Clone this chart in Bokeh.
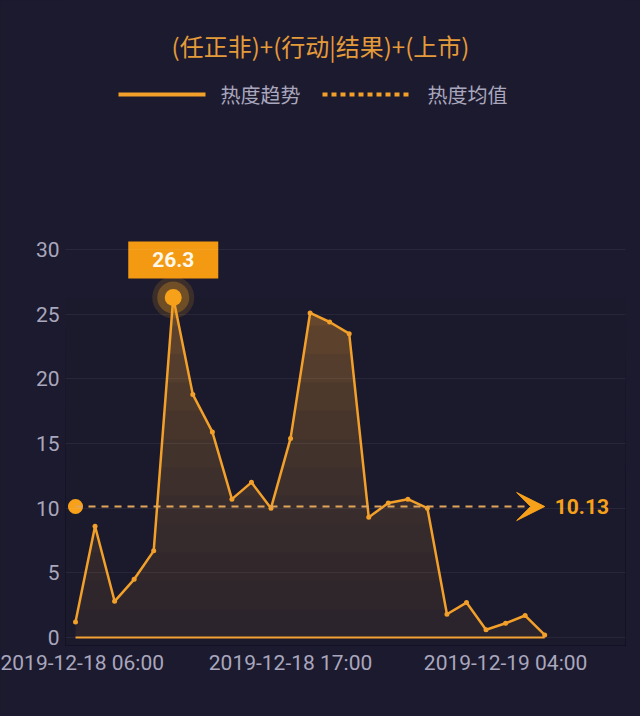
import pandas as pd
from bokeh.plotting import figure
from bokeh.models import (FixedTicker, DatetimeTickFormatter, Range1d, Arrow, VeeHead)
from bokeh.core.properties import value
from bokeh.embed import file_html
from bokeh.resources import INLINE

# ---------------- data ----------------
title_text = "(任正非)+(行动|结果)+(上市)"
legend_labels = ["热度趋势", "热度均值"]
times = [
    "2019-12-18 06:00", "2019-12-18 07:00", "2019-12-18 08:00", "2019-12-18 09:00",
    "2019-12-18 10:00", "2019-12-18 11:00", "2019-12-18 12:00", "2019-12-18 13:00",
    "2019-12-18 14:00", "2019-12-18 15:00", "2019-12-18 16:00", "2019-12-18 17:00",
    "2019-12-18 18:00", "2019-12-18 19:00", "2019-12-18 20:00", "2019-12-18 21:00",
    "2019-12-18 22:00", "2019-12-18 23:00", "2019-12-19 00:00", "2019-12-19 01:00",
    "2019-12-19 02:00", "2019-12-19 03:00", "2019-12-19 04:00", "2019-12-19 05:00",
    "2019-12-19 06:00",
]
heat = [1.2, 8.6, 2.8, 4.5, 6.7, 26.3, 18.8, 15.9, 10.7, 12.0, 10.0, 15.4, 25.1,
        24.4, 23.5, 9.3, 10.4, 10.7, 10.0, 1.8, 2.7, 0.6, 1.1, 1.7, 0.2]
mean_value = 10.13
y_ticks = [0, 5, 10, 15, 20, 25, 30]
x_tick_labels = ["2019-12-18 06:00", "2019-12-18 17:00", "2019-12-19 04:00"]

# ---------------- style / layout ----------------
BG = "#1c1a2e"
ORANGE = "#f2a02a"
ORANGE_B = "#f7a11a"
TITLE_C = "#e59b3a"
GREY = "#a9a7bd"
W, H = 640, 716
FRAME_L, FRAME_R, FRAME_T, FRAME_B = 65, 625, 0, 645
X0_PX, PX_PER_H = 75, 19.55
Y0_PX, PX_PER_U = 637, 12.93
HOUR = 3600000.0

t = pd.to_datetime(times)
t_ms = [int(v.value // 10**6) for v in t]
t0 = t_ms[0]
tick_ms = [int(v.value // 10**6) for v in pd.to_datetime(x_tick_labels)]


def px_x(px):
    return t0 + (px - X0_PX) / PX_PER_H * HOUR


def px_y(py):
    return (Y0_PX - py) / PX_PER_U


p = figure(width=W, height=H, x_axis_type="datetime",
           x_range=Range1d(px_x(FRAME_L), px_x(FRAME_R)),
           y_range=Range1d(px_y(FRAME_B), px_y(FRAME_T)),
           output_backend="svg", toolbar_location=None,
           min_border_left=FRAME_L, min_border_right=W - FRAME_R,
           min_border_top=FRAME_T, min_border_bottom=H - FRAME_B,
           background_fill_color=BG, border_fill_color=BG,
           outline_line_color=None)

# axes
p.xaxis.ticker = FixedTicker(ticks=tick_ms)
fmt = "%Y-%m-%d %H:%M"
p.xaxis.formatter = DatetimeTickFormatter(
    microseconds=fmt, milliseconds=fmt, seconds=fmt, minsec=fmt, minutes=fmt,
    hourmin=fmt, hours=fmt, days=fmt, months=fmt, years=fmt)
p.yaxis.ticker = FixedTicker(ticks=y_ticks)
for ax in (p.xaxis, p.yaxis):
    ax.axis_line_color = None
    ax.major_tick_line_color = None
    ax.minor_tick_line_color = None
    ax.major_tick_out = 0
    ax.major_tick_in = 0
    ax.major_label_text_color = GREY
    ax.major_label_text_font = "Roboto"
    ax.major_label_text_font_size = "21px"
p.xaxis.major_label_standoff = 5
p.yaxis.major_label_standoff = 6
p.xgrid.visible = False
p.ygrid.grid_line_color = "#ffffff"
p.ygrid.grid_line_alpha = 0.06
p.ygrid.grid_line_width = 1
p.ygrid.level = "guide"

# area fill with a vertical fade: a few nested background-coloured veils,
# their opacity adding up toward the baseline
p.varea(x=t, y1=0, y2=heat, fill_color=ORANGE, fill_alpha=0.38)
top = max(heat)
n = 12
alpha = 1 - 0.25 ** (1.0 / n)
p.quad(left=[px_x(-40)] * n, right=[px_x(W + 40)] * n, bottom=[px_y(FRAME_B + 40)] * n,
       top=[top * (i + 1) / n for i in range(n)],
       fill_color=BG, fill_alpha=alpha, line_color=None)
p.line(x=[t_ms[0], t_ms[-1]], y=[0, 0], line_color=ORANGE, line_width=2)

# mean line with arrow
p.add_layout(Arrow(x_start=t_ms[0], y_start=mean_value, x_end=t_ms[-1], y_end=mean_value,
                   line_color="#e2a55a", line_width=2, line_dash="7 6",
                   end=VeeHead(size=28, fill_color=ORANGE_B, line_color=ORANGE_B)))
p.scatter(x=[t_ms[0]], y=[mean_value], size=15, fill_color=ORANGE_B, line_color=None)
p.text(x=[t_ms[-1]], y=[mean_value], text=[f"{mean_value:.2f}"], x_offset=10,
       text_font=value("Roboto"), text_font_style="bold", text_font_size="21px",
       text_color=ORANGE_B, text_align="left", text_baseline="middle")

# trend line
p.line(x=t, y=heat, line_color=ORANGE, line_width=2.5, line_join="round")
p.scatter(x=t, y=heat, size=5, fill_color=ORANGE, line_color=None)

# peak marker and label
ip = heat.index(max(heat))
p.scatter(x=[t_ms[ip]], y=[heat[ip]], size=42, fill_color=ORANGE_B, fill_alpha=0.15, line_color=None)
p.scatter(x=[t_ms[ip]], y=[heat[ip]], size=32, fill_color=ORANGE_B, fill_alpha=0.28, line_color=None)
p.scatter(x=[t_ms[ip]], y=[heat[ip]], size=17, fill_color=ORANGE_B, line_color=None)
box_y = heat[ip] + 37.5 / PX_PER_U
p.rect(x=[t_ms[ip]], y=[box_y], width=90, height=37, width_units="screen",
       height_units="screen", fill_color="#f39a12", line_color=None)
p.text(x=[t_ms[ip]], y=[box_y], text=[f"{heat[ip]:.1f}"],
       text_font=value("Roboto"), text_font_style="bold", text_font_size="21px",
       text_color="#fff8ec", text_align="center", text_baseline="middle")

# title
p.text(x=[px_x(320)], y=[px_y(45)], text=[title_text],
       text_font=value("Noto Sans CJK SC"), text_font_size="24px",
       text_color=TITLE_C, text_align="center", text_baseline="middle")

# legend
ly = px_y(94)
p.line(x=[px_x(118), px_x(205)], y=[ly, ly], line_color=ORANGE, line_width=4)
p.text(x=[px_x(220)], y=[ly], text=[legend_labels[0]],
       text_font=value("Noto Sans CJK SC"), text_font_size="20px",
       text_color=GREY, text_align="left", text_baseline="middle")
p.line(x=[px_x(322), px_x(410)], y=[ly, ly], line_color=ORANGE, line_width=4,
       line_dash="5 4")
p.text(x=[px_x(427)], y=[ly], text=[legend_labels[1]],
       text_font=value("Noto Sans CJK SC"), text_font_size="20px",
       text_color=GREY, text_align="left", text_baseline="middle")

html = file_html(p, INLINE)
html = html.replace("</head>",
                    "<style>html,body{margin:0;background-color:%s;}</style></head>" % BG, 1)
open("out.html", "w").write(html)
